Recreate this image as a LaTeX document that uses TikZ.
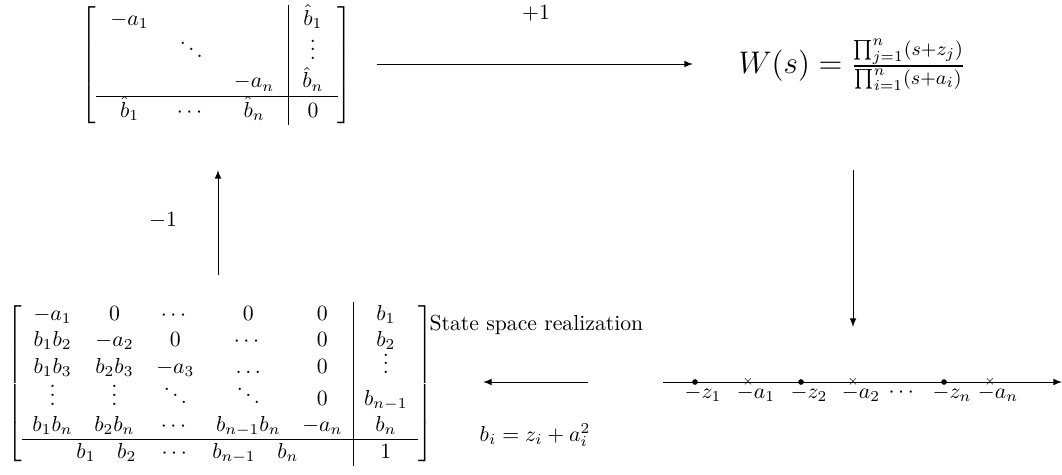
\documentclass[tikz,border=0pt]{standalone}
\usepackage{amsmath}
\newcommand{\vdA}{\raisebox{0pt}[9pt][0pt]{$\vdots$}}
\newcommand{\vdB}{\raisebox{0pt}[11pt][0pt]{$\vdots$}}
\newcommand{\ddB}{\raisebox{0pt}[11pt][0pt]{$\ddots$}}
\newcommand{\vdC}{\raisebox{0pt}[12pt][0pt]{$\vdots$}}
\newcommand{\ddC}{\raisebox{0pt}[12pt][0pt]{$\ddots$}}
\begin{document}
\begin{tikzpicture}[x=0.4606pt,y=-0.4606pt,
  lbl/.style={inner sep=1pt},
  arr/.style={-latex, thin},
  dotpt/.style={circle, fill, inner sep=0pt, minimum size=2.6pt},
  crosspt/.style={inner sep=0pt}]
\useasboundingbox (0,0) rectangle (1062,474);
\node[inner sep=0pt] (A) at (217,65) {\setlength{\arraycolsep}{6.5pt}$\left[\begin{array}{ccc|c}
 -a_1 & & & \hat b_1\\
 & \ddC & & \vdC\\
 & & -a_n & \hat b_n\\ \hline
 \hat b_1 & \cdots & \hat b_n & 0
\end{array}\right]$};
\node[inner sep=0pt] (W) at (852,65) {\fontsize{13.3}{16}\selectfont $W(s)=\frac{\prod_{j=1}^n(s+z_j)}{\prod_{i=1}^n(s+a_i)}$};
\node[inner sep=0pt] (B) at (220,384) {$\left[\begin{array}{ccccc|c}
 -a_1 & 0 & \cdots & 0 & 0 & b_1\\
 b_1b_2 & -a_2 & 0 & \cdots & 0 & b_2\\
 b_1b_3 & b_2b_3 & -a_3 & \ldots & 0 & \vdA\\
 \vdB & \vdB & \ddB & \ddB & 0 & b_{n-1}\\
 b_1b_n & b_2b_n & \cdots & b_{n-1}b_n & -a_n & b_n\\ \hline
 \multicolumn{5}{c|}{b_1\quad b_2\quad \cdots\quad b_{n-1}\quad b_n} & 1
\end{array}\right]$};
\node[lbl, anchor=west] (ssr) at (427,325) {State space realization};
\node[lbl] (bi) at (535,435) {$b_i=z_i+a_i^2$};
\node[lbl] (p1) at (536,13) {$+1$};
\node[lbl] (m1) at (163,220) {$-1$};
% arrows
\coordinate (t1) at (377,64); \coordinate (t2) at (693,64);
\draw[arr] (t1) -- (t2);
\coordinate (d1) at (853,170); \coordinate (d2) at (853,327);
\draw[arr] (d1) -- (d2);
\coordinate (l1) at (588,382); \coordinate (l2) at (483,382);
\draw[arr] (l1) -- (l2);
\coordinate (u1) at (218,275); \coordinate (u2) at (218,170);
\draw[arr] (u1) -- (u2);
% number line
\coordinate (n1) at (663,382); \coordinate (n2) at (1062,382);
\draw[-latex, thin] (n1) -- (n2);
\node[dotpt] (z1) at (695,382) {};
\node[dotpt] (z2) at (801,382) {};
\node[dotpt] (zn) at (944,382) {};
\node[crosspt] (a1) at (748,382) {\tiny$\times$};
\node[crosspt] (a2) at (853,382) {\tiny$\times$};
\node[crosspt] (an) at (990,382) {\tiny$\times$};
\node[lbl] at (703,394) {$-z_1$};
\node[lbl] at (756,394) {$-a_1$};
\node[lbl] at (809,394) {$-z_2$};
\node[lbl] at (861,394) {$-a_2$};
\node[lbl] at (903,393) {$\cdots$};
\node[lbl] at (952,394) {$-z_n$};
\node[lbl] at (998,394) {$-a_n$};
\end{tikzpicture}
\end{document}
